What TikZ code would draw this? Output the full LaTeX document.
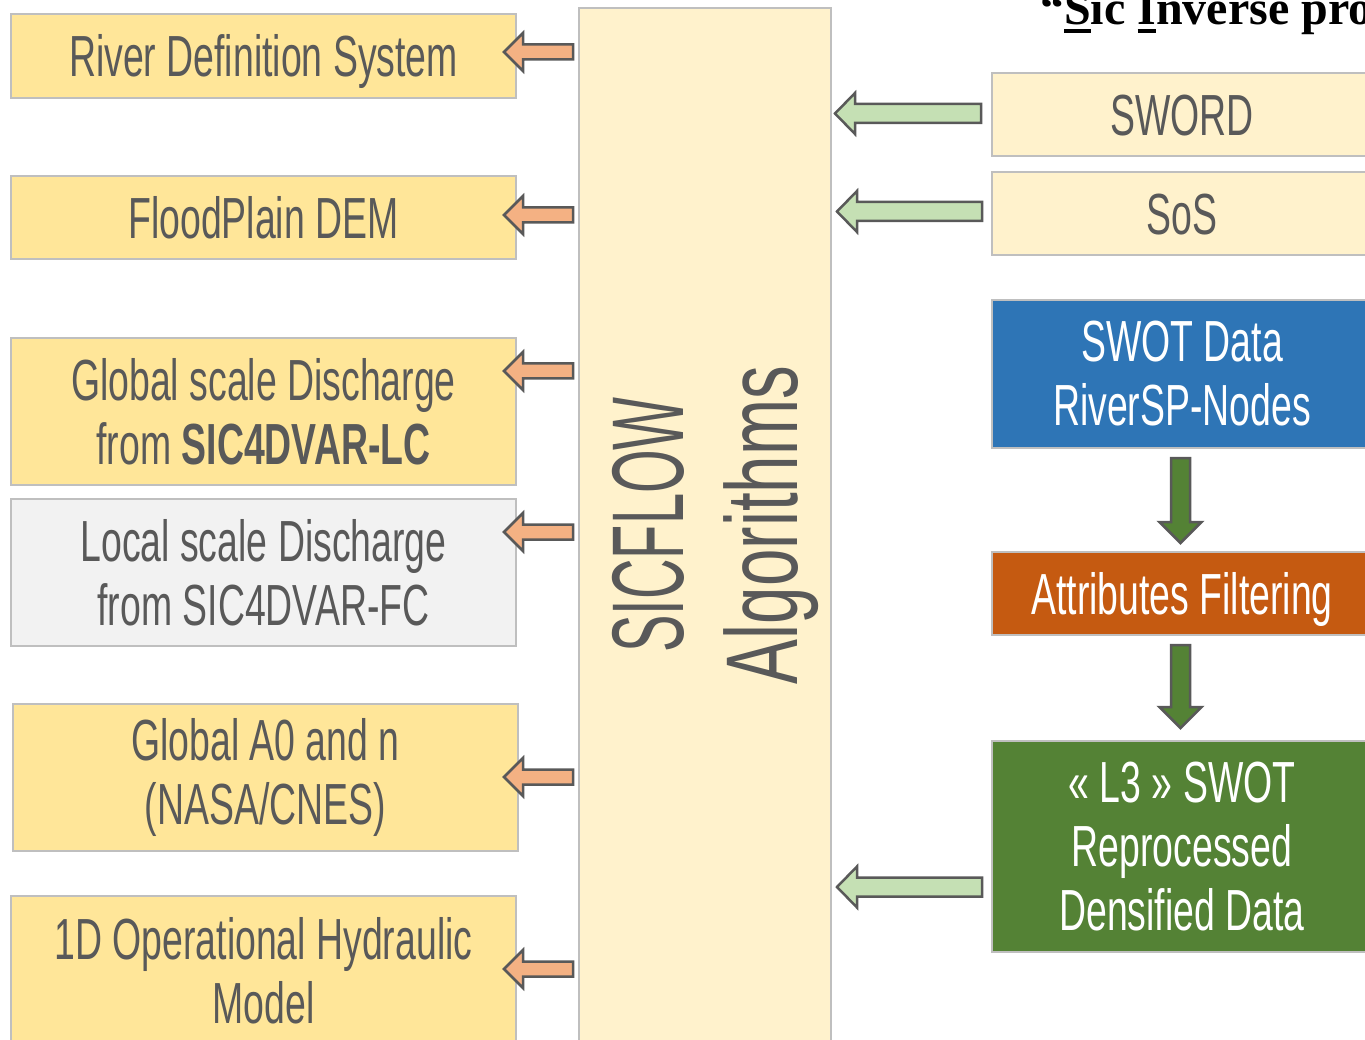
\documentclass[tikz,border=0pt]{standalone}
\usepackage{fontspec}
\setmainfont{Liberation Sans}
\newfontfamily\agency{Liberation Sans}[FakeStretch=0.645]
\newfontfamily\agencybig{Liberation Sans}[FakeStretch=0.55]
\newfontfamily\agencyalgo{Liberation Sans}[FakeStretch=0.66]
\newfontfamily\titlefont{Liberation Serif}
\definecolor{yel}{HTML}{FFE699}
\definecolor{cream}{HTML}{FFF2CC}
\definecolor{lgray}{HTML}{F2F2F2}
\definecolor{boxline}{HTML}{BFBFBF}
\definecolor{txt}{HTML}{595959}
\definecolor{blu}{HTML}{2E75B6}
\definecolor{org}{HTML}{C55A11}
\definecolor{grn}{HTML}{548235}
\definecolor{lgrn}{HTML}{C5E0B4}
\definecolor{larr}{HTML}{F4B183}
\newcommand{\blockleft}[7]{\draw[#1] (#2,#3) -- ({#2+#5},{#3-#7}) -- ({#2+#5},{#3-#6}) -- (#4,{#3-#6}) -- (#4,{#3+#6}) -- ({#2+#5},{#3+#6}) -- ({#2+#5},{#3+#7}) -- cycle;}
\newcommand{\blockdown}[7]{\draw[#1] (#2,#3) -- ({#2-#7},{#3-#5}) -- ({#2-#6},{#3-#5}) -- ({#2-#6},#4) -- ({#2+#6},#4) -- ({#2+#6},{#3-#5}) -- ({#2+#7},{#3-#5}) -- cycle;}
\newcommand{\ulmark}[1]{\setbox0\hbox{#1}\rlap{\rule[-8pt]{\wd0}{4pt}}#1}
\begin{document}
\begin{tikzpicture}[x=1pt,y=-1pt,
  box/.style={draw=boxline, line width=2pt, inner sep=0pt, align=center, text=txt,
    font=\agency\fontsize{58}{64}\selectfont, anchor=north west},
  one/.style={text height=50pt, text depth=8pt},
  wbox/.style={box, text=white},
  oarrow/.style={fill=larr, draw=txt, line width=2.5pt, line join=miter},
  garrow/.style={fill=lgrn, draw=txt, line width=2.5pt, line join=miter},
  darrow/.style={fill=grn, draw=txt, line width=2.5pt, line join=miter}]
\useasboundingbox (0,0) rectangle (1365,1040);
\clip (0,0) rectangle (1365,1040);
% title
\node[anchor=base west, inner sep=0pt, font=\titlefont\bfseries\fontsize{48}{54}\selectfont] (title) at (1040,25) {“\ulmark{S}ic \ulmark{I}nverse pro};
% left boxes
\node[box, one, fill=yel, minimum width=505, minimum height=84] (rds) at (10,13) {River Definition System};
\node[box, one, fill=yel, minimum width=505, minimum height=83] (dem) at (10,175) {FloodPlain DEM};
\node[box, fill=yel, minimum width=505, minimum height=147] (glc) at (10,337) {Global scale Discharge\\from \textbf{SIC4DVAR-LC}};
\node[box, fill=lgray, minimum width=505, minimum height=147] (lfc) at (10,498) {Local scale Discharge\\from SIC4DVAR-FC};
\node[box, fill=yel, minimum width=505, minimum height=147] (ga0) at (12,703) {Global A0 and n\\(NASA/CNES)};
\node[box, fill=yel, minimum width=505, minimum height=150] (hyd) at (10,895) {1D Operational Hydraulic\\Model};
% central box
\node[box, fill=cream, minimum width=252, minimum height=1050] (sic) at (578,7) {};
\node[rotate=90, anchor=base, inner sep=0pt, text=txt, font=\agencybig\fontsize{102}{114}\selectfont] (sicf) at (683,525) {SICFLOW};
\node[rotate=90, anchor=base, inner sep=0pt, text=txt, font=\agencyalgo\fontsize{102}{114}\selectfont] (algo) at (797,525) {Algorithms};
% right boxes
\node[box, one, fill=cream, minimum width=380, minimum height=83] (sword) at (991,72) {SWORD};
\node[box, one, fill=cream, minimum width=380, minimum height=83] (sos) at (991,171) {SoS};
\node[wbox, fill=blu, minimum width=380, minimum height=148] (swot) at (991,299) {SWOT Data\\RiverSP-Nodes};
\node[wbox, one, fill=org, minimum width=380, minimum height=83] (filt) at (991,551) {Attributes Filtering};
\node[wbox, fill=grn, minimum width=380, minimum height=211] (l3) at (991,740) {« L3 » SWOT\\Reprocessed\\Densified Data};
% orange arrows (to the left boxes)
\blockleft{oarrow}{504}{52}{573}{19}{7.5}{19}
\blockleft{oarrow}{504}{215}{573}{19}{7.5}{19}
\blockleft{oarrow}{504}{371}{573}{19}{7.5}{19}
\blockleft{oarrow}{504}{532}{573}{19}{7.5}{19}
\blockleft{oarrow}{504}{777}{573}{19}{7.5}{19}
\blockleft{oarrow}{504}{969}{573}{19}{7.5}{19}
% light green arrows (into SICFLOW)
\blockleft{garrow}{835}{113.5}{981}{20}{9.5}{20.5}
\blockleft{garrow}{837}{211.5}{982}{20}{9.5}{20.5}
\blockleft{garrow}{837}{887}{982}{20}{9.5}{20.5}
% dark green down arrows
\blockdown{darrow}{1180.5}{543}{458}{21}{9.5}{21}
\blockdown{darrow}{1180.5}{728}{645}{21}{9.5}{21}
\end{tikzpicture}
\end{document}
